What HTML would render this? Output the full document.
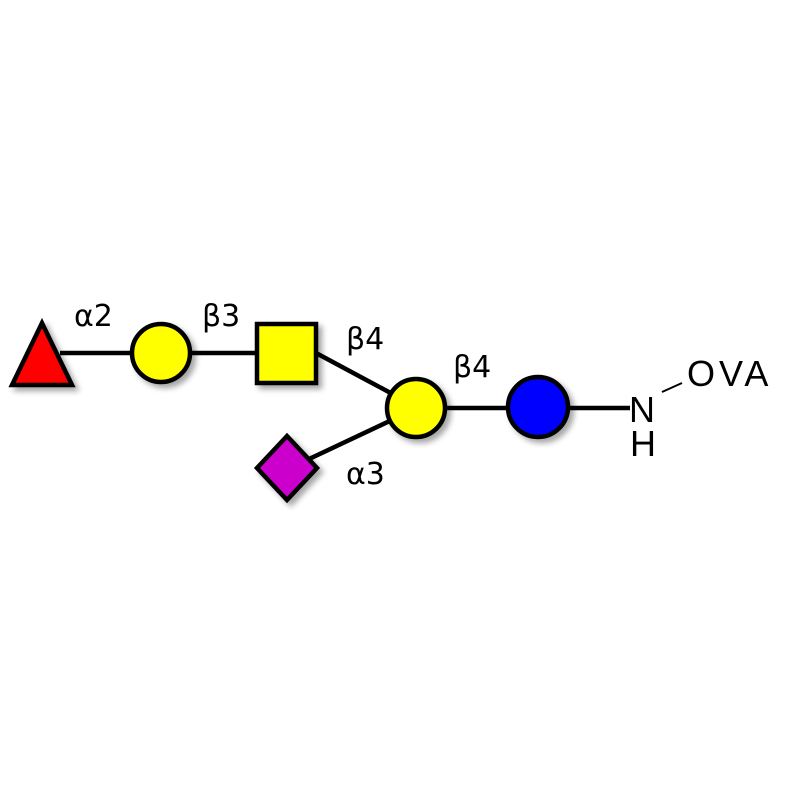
<!DOCTYPE html>
<html><head><style>html,body{margin:0;padding:0;background:#fff;}svg{display:block}</style></head>
<body>
<svg width="800" height="800" viewBox="0 0 800 800" xmlns="http://www.w3.org/2000/svg">
<defs><filter id="sh" x="-30%" y="-30%" width="170%" height="170%"><feGaussianBlur in="SourceAlpha" stdDeviation="3"/><feOffset dx="4" dy="4"/><feComponentTransfer><feFuncA type="linear" slope="0.35"/></feComponentTransfer><feMerge><feMergeNode/><feMergeNode in="SourceGraphic"/></feMerge></filter></defs>
<g stroke="#000" stroke-width="4.5" fill="none">
<line x1="60" y1="353" x2="258" y2="353"/>
<line x1="316" y1="353" x2="413" y2="405"/>
<line x1="413" y1="408" x2="630" y2="408"/>
<line x1="290" y1="468" x2="413" y2="410"/>
</g>
<line x1="662" y1="392" x2="682" y2="383" stroke="#000" stroke-width="2"/>
<g stroke="#000" stroke-width="4.5" filter="url(#sh)">
<polygon points="42,323 12,385 72,385" fill="#ff0000" stroke-linejoin="miter"/>
<circle cx="161" cy="353" r="29" fill="#ffff00"/>
<rect x="257" y="324" width="59" height="59" fill="#ffff00"/>
<circle cx="416" cy="408" r="29" fill="#ffff00"/>
<circle cx="538" cy="407" r="30" fill="#0000ff"/>
<polygon points="287,436 317,468 287,500 257,468" fill="#cc00cc"/>
</g>
<g font-family="DejaVu Sans, Liberation Sans, sans-serif" font-size="30" fill="#000">
<text x="74" y="326">α2</text>
<text x="202" y="326">β3</text>
<text x="346" y="349">β4</text>
<text x="453" y="377">β4</text>
<text x="346" y="484">α3</text>
</g>
<g font-family="Liberation Sans, sans-serif" font-size="36" fill="#000">
<text x="629" y="422">N</text>
<text x="630" y="456">H</text>
<text x="687" y="386" letter-spacing="4">OVA</text>
</g>
</svg>
</body></html>
